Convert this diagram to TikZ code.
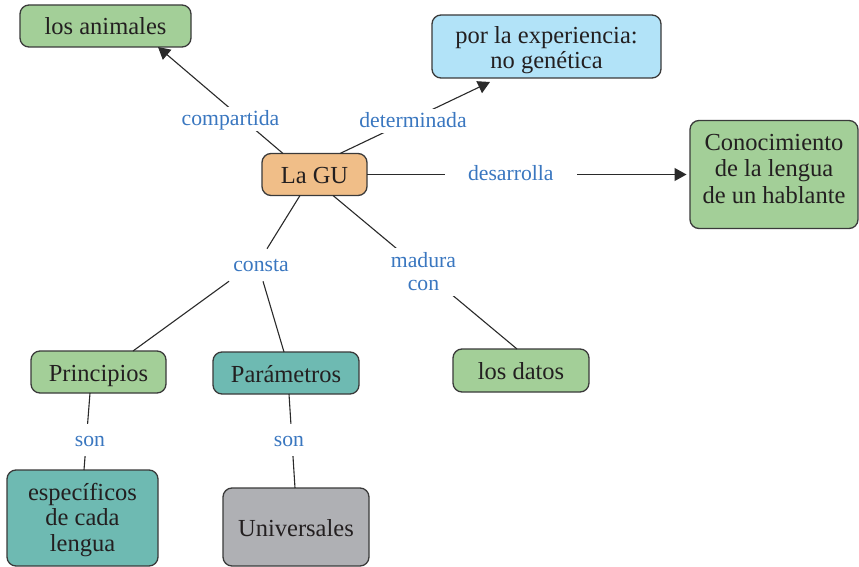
\documentclass[tikz,border=0pt]{standalone}
\usepackage{fontspec}
\setmainfont{Liberation Serif}
\usetikzlibrary{arrows.meta}

\definecolor{ink}{HTML}{231F20}
\definecolor{boxedge}{HTML}{3A3A3A}
\definecolor{linecol}{HTML}{2A2A2A}
\definecolor{labelblue}{HTML}{3A77C0}
\definecolor{leafgreen}{HTML}{A3CF98}
\definecolor{skyblue}{HTML}{B2E3F8}
\definecolor{apricot}{HTML}{F0BE88}
\definecolor{seateal}{HTML}{6EBAB2}
\definecolor{stone}{HTML}{AFB0B4}

\newcommand\conceptfont{\fontsize{24.5pt}{25.5pt}\selectfont}
\newcommand\wideleading{\fontsize{24.5pt}{26.5pt}\selectfont}
\newcommand\linkfont{\fontsize{21.7pt}{23pt}\selectfont}

\begin{document}
\begin{tikzpicture}[x=1pt, y=-1pt,
  concept/.style={draw=boxedge, line width=1.3pt, rounded corners=9pt,
    inner sep=0pt, outer sep=0pt, align=center, text=ink,
    font=\conceptfont, text height=18pt, text depth=0pt},
  lab/.style={text=labelblue, font=\linkfont, inner xsep=2pt, inner ysep=0pt,
    outer sep=0pt, text height=19pt, text depth=5.5pt, align=center},
  gaplab/.style={lab, fill=white},
  link/.style={draw=linecol, line width=1.1pt},
  arr/.style={link, -{Triangle[length=12pt, width=13pt]}}]

\useasboundingbox (0,0) rectangle (859,567);
\fill[white] (0,0) rectangle (859,567);

% concepts
\node[concept, fill=leafgreen, minimum width=171pt, minimum height=42pt] (anim) at (105.5,26) {los animales};
\node[concept, fill=skyblue, minimum width=229pt, minimum height=63pt, text height=45pt] (exp) at (546.5,46.5) {por la experiencia:\\no genética};
\node[concept, fill=apricot, minimum width=105pt, minimum height=42pt] (gu) at (314.5,174.5) {La GU};
\node[concept, fill=leafgreen, minimum width=168pt, minimum height=108pt, font=\wideleading, text height=57pt] (con) at (774,174.5) {Conocimiento\\de la lengua\\de un hablante};
\node[concept, fill=leafgreen, minimum width=135pt, minimum height=42pt] (prin) at (98.5,372) {Principios};
\node[concept, fill=seateal, minimum width=146pt, minimum height=42pt] (par) at (286,373) {Parámetros};
\node[concept, fill=leafgreen, minimum width=136pt, minimum height=43pt] (datos) at (521,370.5) {los datos};
\node[concept, fill=seateal, minimum width=151pt, minimum height=96pt, text height=66pt] (esp) at (82.5,518) {específicos\\de cada\\lengua};
\node[concept, fill=stone, minimum width=146pt, minimum height=78pt] (univ) at (296,527) {Universales};

% branching label
\node[lab, inner ysep=4pt] (consta) at (261,265) {consta};

% connectors
\draw[arr] ([xshift=-31.5pt]gu.north) -- ([xshift=52.5pt]anim.south);
\draw[arr] ([xshift=25.5pt]gu.north) -- ([xshift=-56.5pt, yshift=-4pt]exp.south);
\draw[arr] (gu.east) -- ([xshift=-3.5pt]con.west);
\draw[link] ([xshift=18.5pt]gu.south) -- ([xshift=-4pt]datos.north);
\draw[link] ([xshift=-14.5pt]gu.south) -- ([xshift=6pt]consta.north);
\draw[link] ([xshift=-32pt]consta.south) -- ([xshift=34.5pt]prin.north);
\draw[link] ([xshift=2pt]consta.south) -- ([xshift=-2pt]par.north);
\draw[link] ([xshift=-8.5pt]prin.south) -- ([xshift=1.5pt]esp.north);
\draw[link] ([xshift=3pt]par.south) -- ([xshift=-1pt]univ.north);

% linking phrases set over their connectors
\node[gaplab] (compartida) at (230.5,119.25) {compartida};
\node[gaplab] (determinada) at (413,121.25) {determinada};
\node[gaplab, inner xsep=23pt] (desarrolla) at (510.8,173.25) {desarrolla};
\node[gaplab, text height=42pt] (madura) at (423.5,271.75) {madura\\con};
\node[gaplab, inner ysep=4pt] (son1) at (90,440) {son};
\node[gaplab, inner ysep=4pt] (son2) at (289,440) {son};
\end{tikzpicture}
\end{document}
